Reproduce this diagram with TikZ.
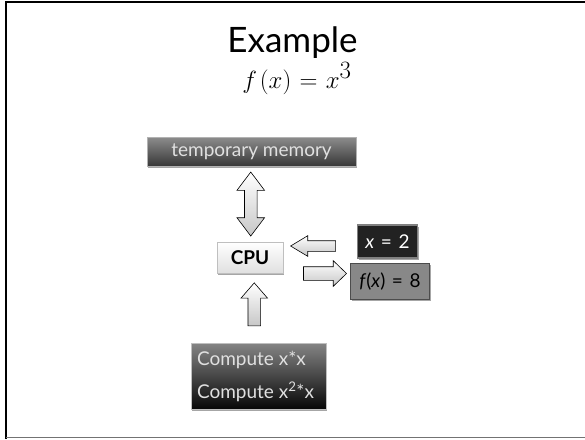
\documentclass[tikz,border=0pt]{standalone}
\usepackage{fontspec}
\setmainfont{Lato}
\usetikzlibrary{shapes.arrows,shadows,calc}
\definecolor{boxdark}{HTML}{222222}
\definecolor{boxmid}{HTML}{888888}
\tikzset{
  shade box/.style={drop shadow={shadow xshift=1pt,shadow yshift=-1.5pt,fill=black,opacity=0.35}},
  darkbox/.style={shade box,rectangle,draw=gray!60,line width=0.6pt,
    top color=black!45,bottom color=black!78,text=white,inner sep=0pt},
  cpubox/.style={shade box,rectangle,draw=black!25,line width=0.5pt,
    top color=white,bottom color=black!12,inner sep=0pt},
  blockarrow/.style={draw=black,line width=0.6pt,top color=white,bottom color=black!22,
    inner xsep=0pt},
  onearrow/.style={blockarrow,single arrow},
  twoarrow/.style={blockarrow,double arrow},
}
\newcommand{\wsp}{\hspace{0.35em}}
\begin{document}
\begin{tikzpicture}[x=1pt,y=-1pt]
\useasboundingbox (0,0) rectangle (585,439);
% frame
\draw[line width=2pt] (6,439) -- (6,2) -- (585,2);
\draw[black!55,line width=1pt] (6,437.5) -- (585,437.5);
% title
\node[anchor=base,font=\fontsize{35}{40}\selectfont,inner sep=0pt] (title) at (292.5,52) {Example};
\node[anchor=base,font=\fontsize{33}{36}\selectfont,inner sep=0pt] (formula) at (297,88)
  {$f\mkern2mu(x)\mkern1mu=\mkern1mu x^{3}$};
% boxes
\node[darkbox,minimum width=209pt,minimum height=29pt,
  font=\fontsize{19}{22}\selectfont,text=white!88!black] (mem) at (251.5,151.5) {temporary memory};
\node[cpubox,minimum width=66pt,minimum height=31pt,
  font=\fontsize{19}{22}\selectfont\bfseries] (cpu) at (250,257.5) {CPU};
\node[shade box,rectangle,fill=boxdark,draw=black!50,line width=1.5pt,minimum width=60pt,minimum height=33pt,
  text=white,font=\fontsize{19}{22}\selectfont,inner sep=0pt] (in) at (387.5,241.5) {\textit{x}\wsp=\wsp2};
\node[shade box,rectangle,fill=boxmid,draw=black!70,line width=1.2pt,minimum width=79pt,minimum height=36pt,
  font=\fontsize{19}{22}\selectfont,inner sep=0pt] (out) at (390,281.5) {\textit{f}(\textit{x})\wsp=\wsp8};
\node[shade box,rectangle,draw=gray!50,line width=0.5pt,top color=black!48,bottom color=black!97,
  minimum width=135pt,minimum height=66pt,text=white!88!black,font=\fontsize{19}{33}\selectfont,
  align=left,inner sep=0pt] (prog) at (258.5,376)
  {\makebox[123pt][l]{Compute x*x}\\\makebox[123pt][l]{Compute x\textsuperscript{2}*x}};
% block arrows between the boxes
\node[twoarrow,rotate=90,minimum height=64pt,inner ysep=6pt,double arrow head extend=7.5pt,
  double arrow tip angle=74] (memcpu) at ($(mem.south)!0.5!(cpu.north)$) {};
\node[onearrow,rotate=180,minimum height=45pt,inner ysep=5pt,single arrow head extend=5pt,
  single arrow tip angle=62] (incpu) at (317.5,246) {};
\node[onearrow,minimum height=43pt,inner ysep=6.5pt,single arrow head extend=6pt,
  single arrow tip angle=88] (cpuout) at (321.5,273.5) {};
\node[onearrow,rotate=90,minimum height=43pt,inner ysep=6pt,single arrow head extend=7pt,
  single arrow tip angle=82] (progcpu) at ($(prog.north)!0.5!(cpu.south)$) {};
\end{tikzpicture}
\end{document}
